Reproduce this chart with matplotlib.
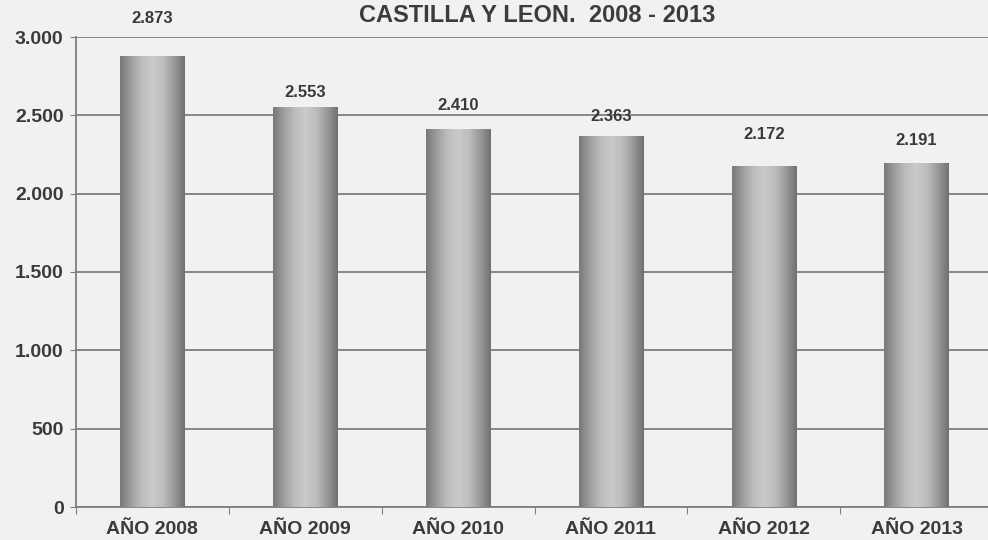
import numpy as np
import matplotlib.pyplot as plt

years = ['AÑO 2008', 'AÑO 2009', 'AÑO 2010', 'AÑO 2011', 'AÑO 2012', 'AÑO 2013']
values = [2873, 2553, 2410, 2363, 2172, 2191]
value_labels = ['2.873', '2.553', '2.410', '2.363', '2.172', '2.191']
y_ticks = [0, 500, 1000, 1500, 2000, 2500, 3000]
y_tick_labels = ['0', '500', '1.000', '1.500', '2.000', '2.500', '3.000']
title = 'CASTILLA Y LEON.  2008 - 2013'

plt.rcParams['font.family'] = ['Liberation Sans', 'DejaVu Sans']
bg = '#f1f1ef'
txt = '#3a3a3a'
grid = '#7e7e7e'

fig = plt.figure(figsize=(9.88, 5.4), dpi=100, facecolor=bg)
ax = fig.add_axes([76 / 988, 33 / 540, 917 / 988, 470 / 540])
ax.set_facecolor(bg)

x = np.arange(len(values))
width = 0.42

# cylinder-like shading across each bar
shade = np.array([0.47, 0.62, 0.74, 0.79, 0.74, 0.60, 0.44])
grad = np.interp(np.linspace(0, 1, 200), np.linspace(0, 1, len(shade)), shade)
grad = np.tile(grad, (2, 1))
for xi, v in zip(x, values):
    ax.imshow(grad, cmap='gray', vmin=0, vmax=1, aspect='auto',
              extent=(xi - width / 2, xi + width / 2, 0, v), zorder=3, interpolation='bicubic')
ax.set_aspect('auto')
ax.set_xlim(-0.5, len(values) - 0.5)
ax.set_ylim(0, 3000)

# label offsets above the bar tops (points)
offsets = [22, 5, 11.5, 9.5, 18, 11]
for xi, v, lab, off in zip(x, values, value_labels, offsets):
    ax.annotate(lab, (xi, v), xytext=(0, off), textcoords='offset points',
                ha='center', va='bottom', fontsize=12, fontweight='bold', color=txt,
                annotation_clip=False, zorder=5)

ax.set_yticks(y_ticks)
ax.set_yticklabels(y_tick_labels, fontsize=14, fontweight='bold', color=txt)
ax.yaxis.grid(True, color=grid, linewidth=1.3, zorder=1)
ax.set_axisbelow(True)

ax.set_xticks(np.arange(-0.5, len(values), 1.0))
ax.set_xticklabels([])
ax.set_xticks(x, minor=True)
ax.set_xticklabels(years, minor=True, fontsize=14, fontweight='bold', color=txt)
ax.tick_params(axis='x', which='minor', length=0, pad=10)
ax.tick_params(axis='x', which='major', length=5, color=grid, direction='out')
ax.tick_params(axis='y', length=4, color=grid, direction='out', pad=5)

for s in ['top', 'right']:
    ax.spines[s].set_visible(False)
for s in ['left', 'bottom']:
    ax.spines[s].set_color(grid)
    ax.spines[s].set_linewidth(1.3)

fig.text(537 / 988, 1 - 16 / 540, title, ha='center', va='center',
         fontsize=17, fontweight='bold', color='#3c3c3c')

fig.savefig('out.png', dpi=100, facecolor=bg)
